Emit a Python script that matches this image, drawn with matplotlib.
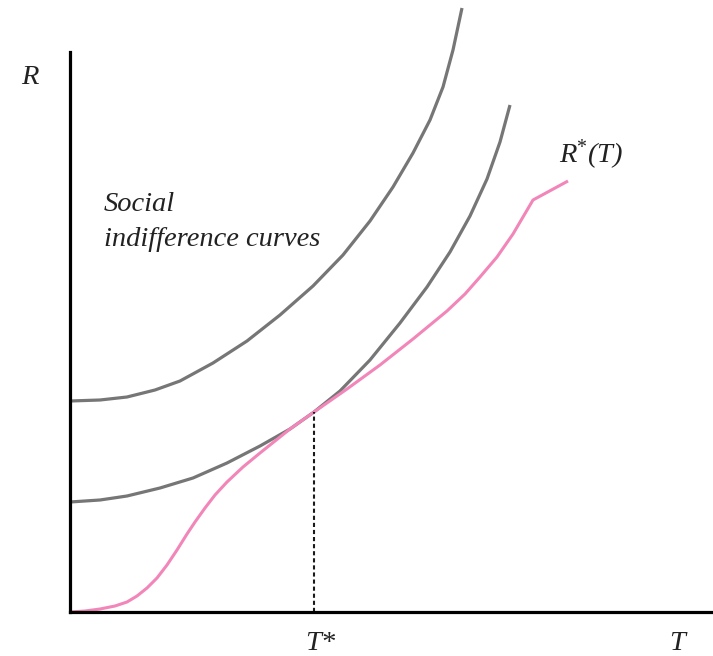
import matplotlib
matplotlib.use("Agg")
from matplotlib import pyplot as plt

# curves (x = T, y = R, arbitrary units)
upper_T = [0, 30, 57, 85, 110, 143, 177, 210, 243, 273, 300, 323, 343, 360, 373, 383, 392]
upper_R = [211, 212, 215, 222, 231, 249, 271, 297, 326, 357, 391, 425, 459, 492, 525, 562, 604]

lower_T = [0, 30, 57, 90, 123, 157, 190, 220, 244, 270, 300, 330, 357, 380, 400, 417, 430, 440]
lower_R = [110, 112, 116, 124, 134, 149, 166, 183, 200, 221, 252, 289, 325, 360, 396, 433, 470, 507]

rstar_T = [0, 15, 30, 45, 57, 67, 77, 87, 97, 107, 117, 125, 135, 145, 157, 173, 190, 205, 220,
           244, 277, 310, 343, 377, 395, 410, 427, 443, 463, 498]
rstar_R = [0, 1, 3, 6, 10, 16, 24, 34, 47, 62, 78, 90, 104, 117, 130, 145, 159, 171, 183,
           200, 223, 247, 273, 301, 318, 335, 355, 378, 412, 431]

t_star = 244
r_star = 200

gray = '#767676'
pink = '#F286B8'

plt.rcParams['font.family'] = ['Liberation Serif', 'DejaVu Serif']
plt.rcParams['mathtext.fontset'] = 'custom'
plt.rcParams['mathtext.rm'] = 'Liberation Serif'
plt.rcParams['mathtext.it'] = 'Liberation Serif:italic'

W, H = 713, 656
fig = plt.figure(figsize=(W / 100, H / 100), dpi=100)
ax = fig.add_axes([70 / W, (H - 612) / H, (713 - 70) / W, (612 - 52) / H])
ax.set_xlim(0, 643)
ax.set_ylim(0, 560)

ax.plot(upper_T, upper_R, color=gray, lw=2.3, clip_on=False, solid_capstyle='butt',
        solid_joinstyle='round')
ax.plot(lower_T, lower_R, color=gray, lw=2.3, clip_on=False, solid_capstyle='butt',
        solid_joinstyle='round')
ax.plot(rstar_T, rstar_R, color=pink, lw=2.2, clip_on=False, solid_capstyle='butt',
        solid_joinstyle='round')
ax.plot([t_star, t_star], [0, r_star], color='#1a1a1a', lw=1.5, ls=(0, (2.0, 1.4)))

for s in ['top', 'right']:
    ax.spines[s].set_visible(False)
for s in ['left', 'bottom']:
    ax.spines[s].set_linewidth(2.3)
    ax.spines[s].set_color('black')
ax.set_xticks([])
ax.set_yticks([])

tkw = dict(style='italic', fontsize=20.5, color='#222222')
fig.text(30 / W, 1 - 77 / H, 'R', ha='center', va='center', **tkw)
fig.text(559 / W, 1 - 155 / H, r'R$^{*}$(T)', ha='left', va='center', **tkw)
fig.text(104 / W, 1 - 204 / H, 'Social', ha='left', va='center', **tkw)
fig.text(104 / W, 1 - 240 / H, 'indifference curves', ha='left', va='center', **tkw)
fig.text(320 / W, 1 - 643 / H, 'T*', ha='center', va='center', **tkw)
fig.text(677 / W, 1 - 643 / H, 'T', ha='center', va='center', **tkw)

fig.savefig('out.png', dpi=100)
